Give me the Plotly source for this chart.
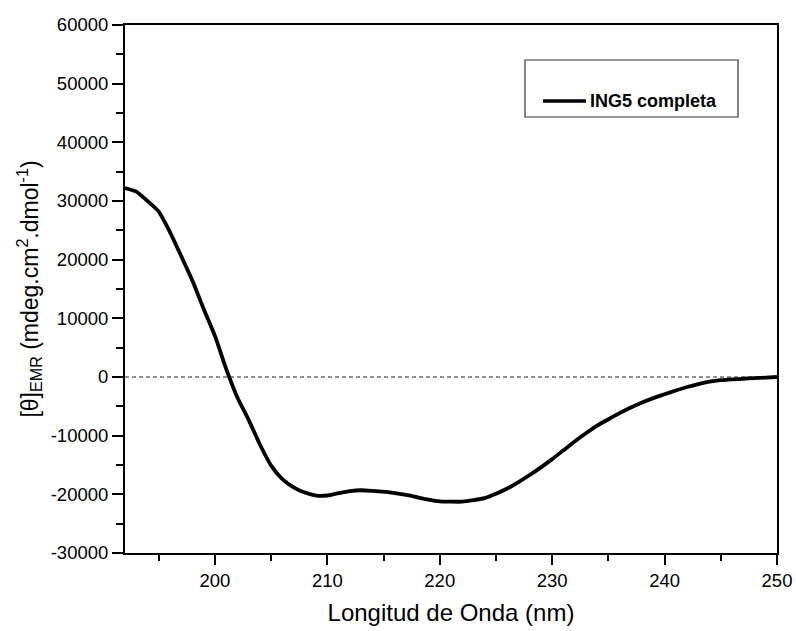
import plotly.graph_objects as go

wavelength = list(range(192, 251))
theta = [32200, 31600, 30000, 28200, 24700, 20600, 16400, 11600, 7000, 1400,
         -3500, -7300, -11500, -15100, -17400, -18800, -19700, -20200, -20200, -19800,
         -19450, -19300, -19400, -19550, -19800, -20100, -20500, -20900, -21200, -21250,
         -21250, -21000, -20650, -19900, -19000, -17900, -16700, -15400, -14000, -12500,
         -11000, -9600, -8300, -7200, -6150, -5200, -4350, -3600, -2950, -2300,
         -1700, -1200, -800, -550, -400, -300, -200, -100, 0]

series_name = "ING5 completa"
y_ticks = [-30000, -20000, -10000, 0, 10000, 20000, 30000, 40000, 50000, 60000]
y_ticktext = [str(v) for v in y_ticks]
x_ticks = [200, 210, 220, 230, 240, 250]

font = "Liberation Sans, Arial, sans-serif"

L, R, T, B = 125, 777, 25, 553
W, H = R - L, B - T


def px(x):
    return (x - L) / W


def py(y):
    return (B - y) / H


fig = go.Figure()
fig.add_trace(go.Scatter(
    x=wavelength, y=theta, mode="lines", name=series_name, showlegend=False,
    line=dict(color="black", width=3.8, shape="spline", smoothing=0.6),
))

fig.add_shape(type="line", xref="x", yref="y", x0=192, x1=250, y0=0, y1=0,
              line=dict(color="#222222", width=1, dash="4px,3px"), layer="below")
# legend frame and entry
fig.add_shape(type="rect", xref="paper", yref="paper",
              x0=px(525), x1=px(738), y0=py(117), y1=py(60),
              line=dict(color="#333333", width=1.2), fillcolor="rgba(0,0,0,0)")
fig.add_shape(type="line", xref="paper", yref="paper",
              x0=px(543), x1=px(586), y0=py(101), y1=py(101),
              line=dict(color="black", width=3.5))
fig.add_annotation(xref="paper", yref="paper", x=px(588), y=py(101),
                   text="<b>" + series_name + "</b>", showarrow=False,
                   xanchor="left", yanchor="middle",
                   font=dict(size=18, family=font, color="black"))

fig.update_layout(
    width=796, height=631,
    margin=dict(l=L, r=796 - R, t=T, b=631 - B),
    paper_bgcolor="white", plot_bgcolor="white",
    font=dict(family=font, color="black"),
    showlegend=False,
    xaxis=dict(
        range=[192, 250], tickvals=x_ticks, ticks="outside", ticklen=10, tickwidth=2,
        tickcolor="black", showline=True, linecolor="black", linewidth=2, mirror=True,
        showgrid=False, zeroline=False, tickfont=dict(size=18.5, family=font),
        automargin=False,
        minor=dict(dtick=5, ticks="outside", ticklen=6, tickwidth=2, tickcolor="black", tick0=190),
        title=dict(text="Longitud de Onda (nm)", font=dict(size=24, family=font), standoff=14),
    ),
    yaxis=dict(
        range=[-30000, 60000], tickvals=y_ticks, ticktext=y_ticktext, ticks="outside",
        ticklen=11, tickwidth=2, tickcolor="black", showline=True, linecolor="black",
        linewidth=2, mirror=True, showgrid=False, zeroline=False,
        tickfont=dict(size=18.5, family=font), automargin=False,
        minor=dict(dtick=5000, ticks="outside", ticklen=7, tickwidth=2, tickcolor="black", tick0=0),
        title=dict(text="[θ]<sub>EMR</sub> (mdeg.cm<sup>2</sup>.dmol<sup>-1</sup>)",
                   font=dict(size=23, family=font), standoff=6),
    ),
)

fig.write_html("out.html")
